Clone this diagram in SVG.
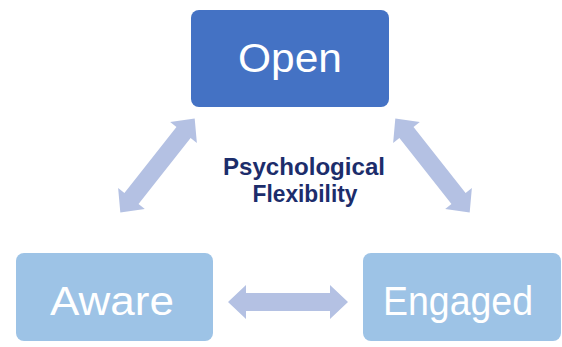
<svg xmlns="http://www.w3.org/2000/svg" xmlns:xlink="http://www.w3.org/1999/xlink" width="562" height="347" viewBox="0 0 562 347">
<style>
.box-dark{fill:#4472C4;}
.box-light{fill:#9DC3E6;}
.lbl{font-family:"Liberation Sans",Arial,sans-serif;font-size:40px;fill:#FFFFFF;text-anchor:middle;}
.center{font-family:"Liberation Sans",Arial,sans-serif;font-size:24px;font-weight:bold;fill:#1C2D6B;text-anchor:middle;}
.arr{fill:#B4C1E3;}
</style>
<defs>
<path id="dbl" d="M-60,0 L-42,-17 L-42,-9 L42,-9 L42,-17 L60,0 L42,17 L42,9 L-42,9 L-42,17 Z"/>
</defs>
<rect width="562" height="347" fill="#FFFFFF"/>
<g id="connectors" class="arr">
<use xlink:href="#dbl" transform="translate(157.5,165.5) rotate(-51.7)"/>
<use xlink:href="#dbl" transform="translate(432.5,165.5) rotate(51.7)"/>
<use xlink:href="#dbl" transform="translate(288,302)"/>
</g>
<g id="open">
<rect class="box-dark" x="191" y="10" width="198" height="97" rx="8"/>
<text class="lbl" x="290" y="72" textLength="104" lengthAdjust="spacingAndGlyphs">Open</text>
</g>
<g id="aware">
<rect class="box-light" x="16" y="253" width="197" height="88" rx="8"/>
<text class="lbl" x="112" y="315" font-size="42" textLength="124" lengthAdjust="spacingAndGlyphs">Aware</text>
</g>
<g id="engaged">
<rect class="box-light" x="363" y="253" width="198" height="88" rx="8"/>
<text class="lbl" x="458" y="315" textLength="150" lengthAdjust="spacingAndGlyphs">Engaged</text>
</g>
<g id="psychological-flexibility">
<text class="center" x="304" y="175" textLength="162" lengthAdjust="spacingAndGlyphs">Psychological</text>
<text class="center" x="305" y="202" textLength="105" lengthAdjust="spacingAndGlyphs">Flexibility</text>
</g>
</svg>
